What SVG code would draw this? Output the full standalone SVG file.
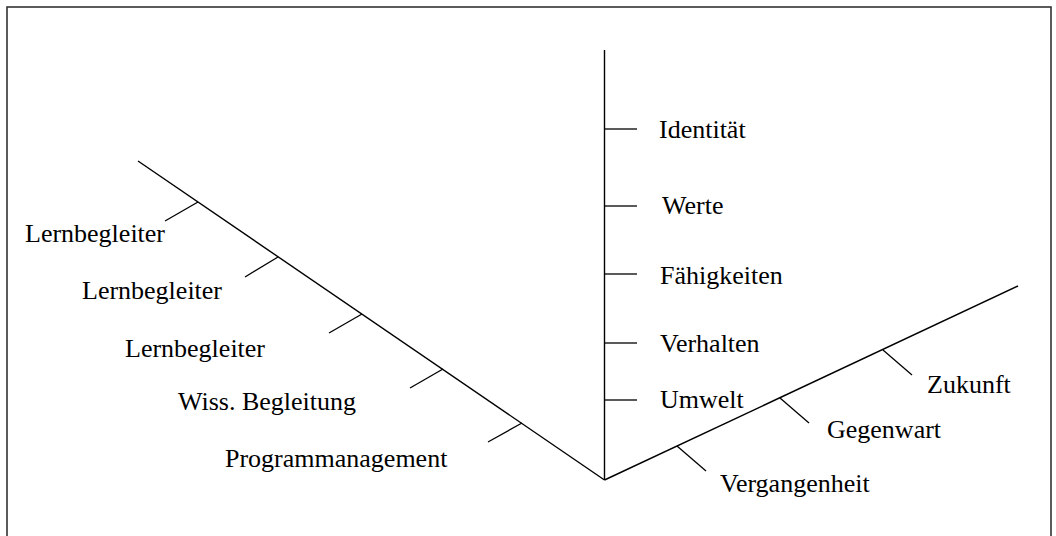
<svg xmlns="http://www.w3.org/2000/svg" width="1056" height="536" viewBox="0 0 1056 536">
  <style>
    .frame { fill: none; stroke: #333; stroke-width: 1.6; }
    .axis { fill: none; stroke: #000; stroke-width: 1.4; stroke-linecap: butt; }
    .tick { fill: none; stroke: #000; stroke-width: 1.3; }
    .lbl { font-family: "Liberation Serif", "Times New Roman", serif; font-size: 26px; fill: #000; }
  </style>
  <rect width="1056" height="536" fill="#fff"/>
  <rect class="frame" x="7" y="7" width="1044" height="540"/>

  <g id="connectors">
    <!-- three axes meeting at the vertex -->
    <line class="axis" x1="604.5" y1="50" x2="604.5" y2="480"/>
    <line class="axis" x1="138" y1="161" x2="604.5" y2="480"/>
    <line class="axis" x1="604.5" y1="480" x2="1018" y2="286"/>
  </g>

  <!-- vertical axis: logical levels -->
  <g id="identitaet">
    <line class="tick" x1="605" y1="129" x2="637" y2="129"/>
    <text class="lbl" x="659" y="138">Identität</text>
  </g>
  <g id="werte">
    <line class="tick" x1="605" y1="206" x2="637" y2="206"/>
    <text class="lbl" x="662" y="214">Werte</text>
  </g>
  <g id="faehigkeiten">
    <line class="tick" x1="605" y1="274" x2="637" y2="274"/>
    <text class="lbl" x="660" y="284">Fähigkeiten</text>
  </g>
  <g id="verhalten">
    <line class="tick" x1="605" y1="343" x2="637" y2="343"/>
    <text class="lbl" x="660" y="352">Verhalten</text>
  </g>
  <g id="umwelt">
    <line class="tick" x1="605" y1="400" x2="637" y2="400"/>
    <text class="lbl" x="660" y="408">Umwelt</text>
  </g>

  <!-- left axis: roles -->
  <g id="lernbegleiter-1">
    <line class="tick" x1="198" y1="202" x2="165" y2="221"/>
    <text class="lbl" x="25" y="242">Lernbegleiter</text>
  </g>
  <g id="lernbegleiter-2">
    <line class="tick" x1="278" y1="257" x2="245" y2="277"/>
    <text class="lbl" x="82" y="299">Lernbegleiter</text>
  </g>
  <g id="lernbegleiter-3">
    <line class="tick" x1="362" y1="314" x2="329" y2="333"/>
    <text class="lbl" x="125" y="357">Lernbegleiter</text>
  </g>
  <g id="wiss-begleitung">
    <line class="tick" x1="443" y1="369" x2="410" y2="388"/>
    <text class="lbl" x="178" y="410">Wiss. Begleitung</text>
  </g>
  <g id="programmanagement">
    <line class="tick" x1="522" y1="423" x2="488" y2="442"/>
    <text class="lbl" x="225" y="467">Programmanagement</text>
  </g>

  <!-- right axis: time -->
  <g id="vergangenheit">
    <line class="tick" x1="677" y1="446" x2="706" y2="471"/>
    <text class="lbl" x="720" y="492">Vergangenheit</text>
  </g>
  <g id="gegenwart">
    <line class="tick" x1="780" y1="398" x2="809" y2="423"/>
    <text class="lbl" x="827" y="438">Gegenwart</text>
  </g>
  <g id="zukunft">
    <line class="tick" x1="883" y1="350" x2="912" y2="375"/>
    <text class="lbl" x="927" y="393">Zukunft</text>
  </g>
</svg>
